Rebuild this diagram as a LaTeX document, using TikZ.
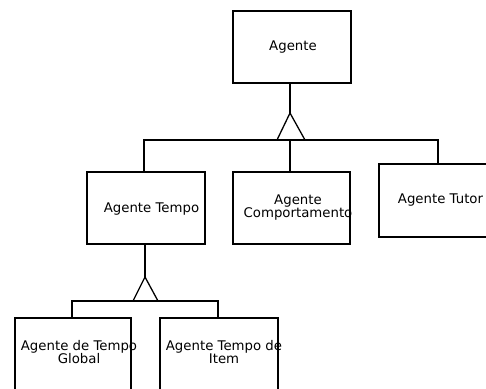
\documentclass[tikz,border=0pt]{standalone}
\usepackage{fontspec}
\setmainfont{DejaVu Sans}
\begin{document}
\begin{tikzpicture}[x=1pt,y=-1pt,
  box/.style={draw=black,line width=1.5pt,fill=white,rectangle,inner sep=0pt,anchor=north west},
  lbl/.style={font=\fontsize{13.3}{13.5}\selectfont,inner sep=0pt,anchor=base,align=center,text=black},
  link/.style={draw=black,line width=1.3pt}]
\useasboundingbox (0,0) rectangle (486,388);
% boxes
\node[box,minimum width=118pt,minimum height=72pt] (agente) at (232,10) {};
\node[box,minimum width=118pt,minimum height=72pt] (tempo) at (86,171) {};
\node[box,minimum width=117pt,minimum height=72pt] (comport) at (232,171) {};
\node[box,minimum width=120pt,minimum height=73pt] (tutor) at (378,163) {};
\node[box,minimum width=116pt,minimum height=90pt] (global) at (14,317) {};
\node[box,minimum width=118pt,minimum height=90pt] (item) at (159,317) {};
% labels
\node[lbl] (tAgente) at (293,50) {Agente};
\node[lbl] (tTempo) at (151.5,212) {Agente Tempo};
\node[lbl] (tComport) at (298,217.5) {Agente\\Comportamento};
\node[lbl] (tTutor) at (440.5,203) {Agente Tutor};
\node[lbl] (tGlobal) at (79,363.5) {Agente de Tempo\\Global};
\node[lbl] (tItem) at (224,363.5) {Agente Tempo de\\Item};
% upper generalization
\coordinate (apex1) at (290,113);
\coordinate (bl1) at (277,140);
\coordinate (br1) at (305,140);
\coordinate (bar1) at (290,140);
\draw[link] (agente.south -| apex1) -- (apex1);
\draw[link] (apex1) -- (bl1) -- (br1) -- cycle;
\draw[link] (tempo.north -| 144,0) |- (bar1) -| (tutor.north -| 438,0);
\draw[link] (bar1) -- (comport.north -| bar1);
% lower generalization
\coordinate (apex2) at (145,277);
\coordinate (bl2) at (133,301);
\coordinate (br2) at (158,301);
\coordinate (bar2) at (145,301);
\draw[link] (tempo.south -| apex2) -- (apex2);
\draw[link] (apex2) -- (bl2) -- (br2) -- cycle;
\draw[link] (global.north -| 72,0) |- (bar2) -| (item.north -| 218,0);
\end{tikzpicture}
\end{document}
